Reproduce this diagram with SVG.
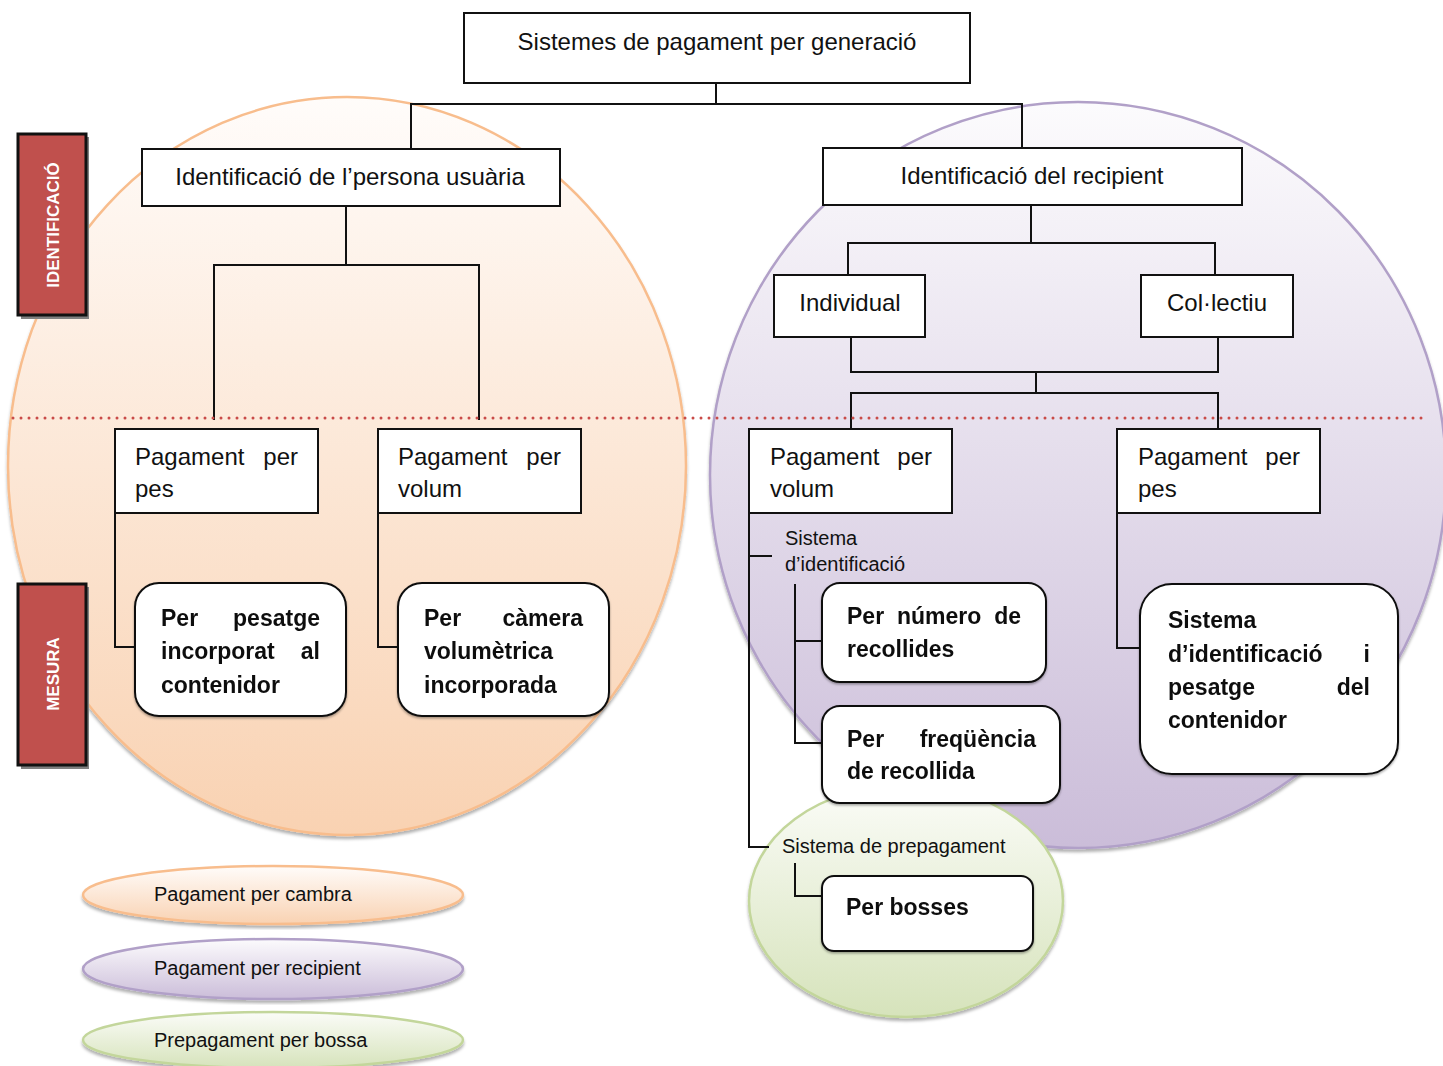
<svg xmlns="http://www.w3.org/2000/svg" width="1443" height="1066" viewBox="0 0 1443 1066">
<defs>
<linearGradient id="gO" x1="0" y1="0" x2="0" y2="1"><stop offset="0" stop-color="#fffcfa"/><stop offset="1" stop-color="#f9d2b2"/></linearGradient>
<linearGradient id="gP" x1="0" y1="0" x2="0" y2="1"><stop offset="0" stop-color="#fcfbfd"/><stop offset="1" stop-color="#cbbdd9"/></linearGradient>
<linearGradient id="gG" x1="0" y1="0" x2="0" y2="1"><stop offset="0" stop-color="#fbfcf8"/><stop offset="1" stop-color="#d6e3bb"/></linearGradient>
<filter id="sh" x="-10%" y="-10%" width="120%" height="120%"><feDropShadow dx="0" dy="3" stdDeviation="1.5" flood-color="#000" flood-opacity="0.3"/></filter>
<filter id="shs" x="-20%" y="-20%" width="140%" height="140%"><feDropShadow dx="0" dy="1.5" stdDeviation="1" flood-color="#000" flood-opacity="0.35"/></filter>
</defs>
<style>
text{font-family:"Liberation Sans",Arial,sans-serif;fill:#111}
.t24{font-size:24px}
.t20{font-size:20px}
.b23{font-size:23px;font-weight:bold}
.box{fill:#fff;stroke:#111;stroke-width:2}
.rbox{fill:#fff;stroke:#111;stroke-width:2}
.ln{fill:none;stroke:#111;stroke-width:2}
.side{fill:#c0504d;stroke:#111;stroke-width:3}
.sidesh{fill:#808080}
.stxt{font-size:17px;font-weight:bold;fill:#fff}
.e{font-size:20px}
</style>

<g id="background">
<ellipse cx="347" cy="466" rx="339" ry="369" fill="url(#gO)" stroke="#f8bd8d" stroke-width="2.5" filter="url(#sh)"/>
<ellipse cx="1078" cy="475" rx="368" ry="373" fill="url(#gP)" stroke="#b1a0c8" stroke-width="2.5" filter="url(#sh)"/>
<ellipse cx="906" cy="901" rx="157" ry="116" fill="url(#gG)" stroke="#c3d69b" stroke-width="2.5" filter="url(#sh)"/>
</g>

<g id="side-identificacio">
<rect class="sidesh" x="21" y="137" width="68" height="182"/>
<rect class="side" x="18" y="134" width="68" height="181"/>
<text class="stxt" transform="translate(53,225) rotate(-90)" text-anchor="middle" dominant-baseline="central">IDENTIFICACIÓ</text>
</g>
<g id="side-mesura">
<rect class="sidesh" x="21" y="587" width="68" height="182"/>
<rect class="side" x="18" y="584" width="68" height="181"/>
<text class="stxt" transform="translate(53,674) rotate(-90)" text-anchor="middle" dominant-baseline="central">MESURA</text>
</g>

<g id="connectors">
<path class="ln" d="M716 83V104M411 149V104H1022V148"/>
<path class="ln" d="M346 206V265M214 420V265H479V420"/>
<path class="ln" d="M1031 205V243M848 275V243H1215V275"/>
<path class="ln" d="M851 338V372H1218V338M1036 372V393M851 428V393H1218V428"/>
<path class="ln" d="M115 513V647H135M378 513V647H398"/>
<path class="ln" d="M749 513V847H769M749 556H772"/>
<path class="ln" d="M795 584V743H822M795 641H822"/>
<path class="ln" d="M795 863V896H822"/>
<path class="ln" d="M1117 513V648H1140"/>
</g>

<line id="divider" x1="13" y1="418" x2="1425" y2="418" stroke="#c94b48" stroke-width="3" stroke-dasharray="0 8" stroke-linecap="round"/>

<g id="n-title">
<rect class="box" x="464" y="13" width="506" height="70"/>
<text class="t24" x="717" y="50" text-anchor="middle">Sistemes de pagament per generació</text>
</g>
<g id="n-usuaria">
<rect class="box" x="142" y="149" width="418" height="57"/>
<text class="t24" x="350" y="185" text-anchor="middle">Identificació de l’persona usuària</text>
</g>
<g id="n-recipient">
<rect class="box" x="823" y="148" width="419" height="57"/>
<text class="t24" x="1032" y="184" text-anchor="middle">Identificació del recipient</text>
</g>
<g id="n-individual">
<rect class="box" x="774" y="275" width="151" height="62"/>
<text class="t24" x="850" y="311" text-anchor="middle">Individual</text>
</g>
<g id="n-collectiu">
<rect class="box" x="1141" y="275" width="152" height="62"/>
<text class="t24" x="1217" y="311" text-anchor="middle">Col·lectiu</text>
</g>

<g id="n-pes-left">
<rect class="box" x="115" y="429" width="203" height="84"/>
<text class="t24" x="135" y="465">Pagament</text><text class="t24" x="298" y="465" text-anchor="end">per</text>
<text class="t24" x="135" y="497">pes</text>
</g>
<g id="n-volum-left">
<rect class="box" x="378" y="429" width="203" height="84"/>
<text class="t24" x="398" y="465">Pagament</text><text class="t24" x="561" y="465" text-anchor="end">per</text>
<text class="t24" x="398" y="497">volum</text>
</g>
<g id="n-volum-right">
<rect class="box" x="749" y="429" width="203" height="84"/>
<text class="t24" x="770" y="465">Pagament</text><text class="t24" x="932" y="465" text-anchor="end">per</text>
<text class="t24" x="770" y="497">volum</text>
</g>
<g id="n-pes-right">
<rect class="box" x="1117" y="429" width="203" height="84"/>
<text class="t24" x="1138" y="465">Pagament</text><text class="t24" x="1300" y="465" text-anchor="end">per</text>
<text class="t24" x="1138" y="497">pes</text>
</g>

<g id="n-pesatge" filter="url(#shs)">
<rect class="rbox" x="135" y="583" width="211" height="133" rx="24"/>
<text class="b23" x="161" y="626">Per</text><text class="b23" x="320" y="626" text-anchor="end">pesatge</text>
<text class="b23" x="161" y="659">incorporat</text><text class="b23" x="320" y="659" text-anchor="end">al</text>
<text class="b23" x="161" y="693">contenidor</text>
</g>
<g id="n-camera" filter="url(#shs)">
<rect class="rbox" x="398" y="583" width="211" height="133" rx="24"/>
<text class="b23" x="424" y="626">Per</text><text class="b23" x="583" y="626" text-anchor="end">càmera</text>
<text class="b23" x="424" y="659">volumètrica</text>
<text class="b23" x="424" y="693">incorporada</text>
</g>

<g id="lbl-sistema-id">
<text class="t20" x="785" y="545">Sistema</text>
<text class="t20" x="785" y="571">d’identificació</text>
</g>
<g id="n-numero" filter="url(#shs)">
<rect class="rbox" x="822" y="583" width="224" height="99" rx="18"/>
<text class="b23" x="847" y="624">Per</text><text class="b23" x="897" y="624">número</text><text class="b23" x="1021" y="624" text-anchor="end">de</text>
<text class="b23" x="847" y="657">recollides</text>
</g>
<g id="n-frequencia" filter="url(#shs)">
<rect class="rbox" x="822" y="706" width="238" height="97" rx="18"/>
<text class="b23" x="847" y="747">Per</text><text class="b23" x="1036" y="747" text-anchor="end">freqüència</text>
<text class="b23" x="847" y="779">de recollida</text>
</g>
<g id="lbl-prepagament">
<text class="t20" x="782" y="853">Sistema de prepagament</text>
</g>
<g id="n-bosses" filter="url(#shs)">
<rect class="rbox" x="822" y="876" width="211" height="75" rx="12"/>
<text class="b23" x="846" y="915">Per bosses</text>
</g>
<g id="n-idpesatge" filter="url(#shs)">
<rect class="rbox" x="1140" y="584" width="258" height="190" rx="32"/>
<text class="b23" x="1168" y="628">Sistema</text>
<text class="b23" x="1168" y="662">d’identificació</text><text class="b23" x="1370" y="662" text-anchor="end">i</text>
<text class="b23" x="1168" y="695">pesatge</text><text class="b23" x="1370" y="695" text-anchor="end">del</text>
<text class="b23" x="1168" y="728">contenidor</text>
</g>

<g id="legend-cambra">
<ellipse cx="273" cy="895" rx="190" ry="29" fill="url(#gO)" stroke="#f8bd8d" stroke-width="2.5" filter="url(#sh)"/>
<text class="e" x="154" y="901">Pagament per cambra</text>
</g>
<g id="legend-recipient">
<ellipse cx="273" cy="969" rx="190" ry="30" fill="url(#gP)" stroke="#b1a0c8" stroke-width="2.5" filter="url(#sh)"/>
<text class="e" x="154" y="975">Pagament per recipient</text>
</g>
<g id="legend-bossa">
<ellipse cx="273" cy="1040" rx="190" ry="28" fill="url(#gG)" stroke="#c3d69b" stroke-width="2.5" filter="url(#sh)"/>
<text class="e" x="154" y="1047">Prepagament per bossa</text>
</g>
</svg>
